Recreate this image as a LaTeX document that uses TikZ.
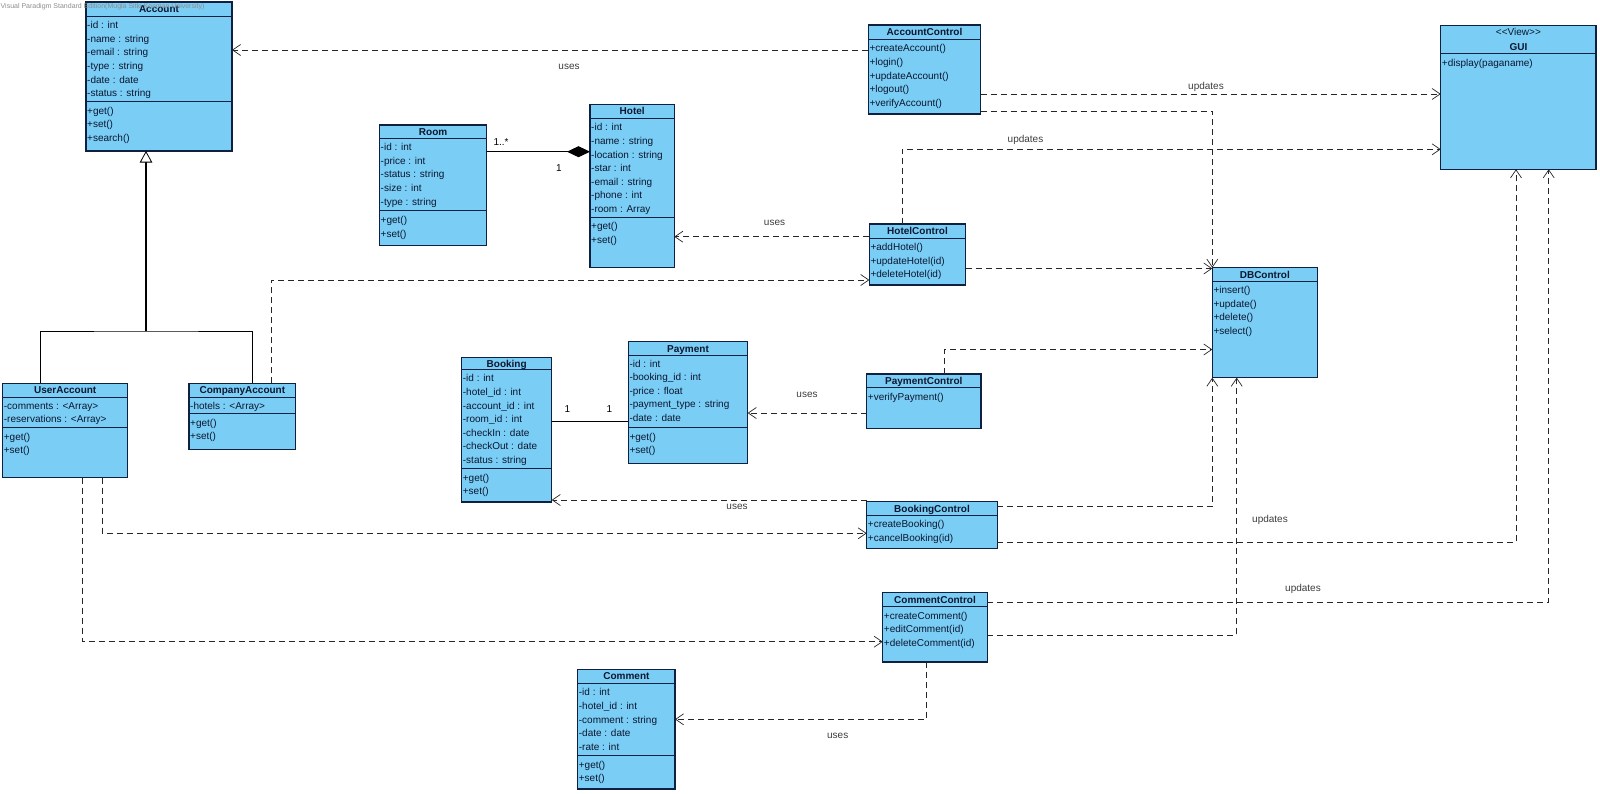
\documentclass[tikz,border=0pt]{standalone}
\usepackage{fontspec}
\setmainfont{Liberation Sans}
\usetikzlibrary{arrows.meta}
\definecolor{vpfill}{RGB}{122,206,245}
\definecolor{vpline}{RGB}{16,32,64}
\definecolor{vptext}{RGB}{12,22,48}
\definecolor{vplbl}{RGB}{60,60,60}

\begin{document}
\begin{tikzpicture}[x=1pt,y=-1pt,
  cls/.style={draw=vpline,fill=vpfill,line width=1.1pt,inner sep=0pt,outer sep=0pt,anchor=north west},
  ttl/.style={font=\fontsize{10}{12}\selectfont\bfseries,text=vptext,inner sep=0pt,anchor=base},
  row/.style={font=\fontsize{10}{12}\selectfont,text=vptext,inner sep=0pt,anchor=base west},
  sep/.style={draw=vpline,line width=0.8pt},
  dep/.style={draw=black!85,line width=0.7pt,dash pattern=on 6pt off 4pt,
    -{Straight Barb[length=8pt,width=11pt]}},
  assoc/.style={draw=black,line width=0.8pt},
  lbl/.style={font=\fontsize{10}{12}\selectfont,text=vplbl,inner sep=0pt}
]
  \useasboundingbox (0,0) rectangle (1600,793);

  % Account
  \node[cls,minimum width=146pt,minimum height=149pt] (account) at (86,2) {};
  \node[ttl] (account-t) at (159,12.9) {Account};
  \draw[sep] (account.west |- 0,16) -- (account.east |- 0,16);
  \foreach \t [count=\i] in {-id : int,-name : string,-email : string,-type  : string,-date : date,-status : string}
    \node[row] (account-a\i) at (87,{28.6+13.6*(\i-1)}) {\t};
  \draw[sep] (account.west |- 0,101.3) -- (account.east |- 0,101.3);
  \foreach \t [count=\i] in {+get(),+set(),+search()}
    \node[row] (account-o\i) at (87,{114.3+13.6*(\i-1)}) {\t};

  % Room
  \node[cls,minimum width=107.2pt,minimum height=120.7pt] (room) at (379.5,125) {};
  \node[ttl] (room-t) at (433.1,135.1) {Room};
  \draw[sep] (room.west |- 0,138) -- (room.east |- 0,138);
  \foreach \t [count=\i] in {-id : int,-price : int,-status : string,-size : int,-type : string}
    \node[row] (room-a\i) at (380.5,{150.6+13.6*(\i-1)}) {\t};
  \draw[sep] (room.west |- 0,210.7) -- (room.east |- 0,210.7);
  \foreach \t [count=\i] in {+get(),+set()}
    \node[row] (room-o\i) at (380.5,{223.9+13.6*(\i-1)}) {\t};

  % Hotel
  \node[cls,minimum width=84.3pt,minimum height=163.4pt] (hotel) at (590,104.3) {};
  \node[ttl] (hotel-t) at (632.2,114.9) {Hotel};
  \draw[sep] (hotel.west |- 0,118.3) -- (hotel.east |- 0,118.3);
  \foreach \t [count=\i] in {-id : int,-name : string,-location : string,-star : int,-email : string,-phone : int,-room : Array}
    \node[row] (hotel-a\i) at (591,{130.9+13.6*(\i-1)}) {\t};
  \draw[sep] (hotel.west |- 0,216.9) -- (hotel.east |- 0,216.9);
  \foreach \t [count=\i] in {+get(),+set()}
    \node[row] (hotel-o\i) at (591,{229.8+13.6*(\i-1)}) {\t};

  % AccountControl
  \node[cls,minimum width=112.4pt,minimum height=89pt] (accctl) at (868.3,25) {};
  \node[ttl] (accctl-t) at (924.5,35.6) {AccountControl};
  \draw[sep] (accctl.west |- 0,39) -- (accctl.east |- 0,39);
  \foreach \t [count=\i] in {+createAccount(),+login(),+updateAccount(),+logout(),+verifyAccount()}
    \node[row] (accctl-o\i) at (869.3,{51.9+13.6*(\i-1)}) {\t};

  % GUI
  \node[cls,minimum width=155.3pt,minimum height=143.6pt] (gui) at (1440.7,25.7) {};
  \node[row,anchor=base] (gui-s) at (1518.4,35.6) {<{}<View>{}>};
  \node[ttl] (gui-t) at (1518.4,50.9) {GUI};
  \draw[sep] (gui.west |- 0,53.3) -- (gui.east |- 0,53.3);
  \node[row] (gui-o1) at (1441.7,66.3) {+display(paganame)};

  % HotelControl
  \node[cls,minimum width=96.4pt,minimum height=61pt] (hotelctl) at (869.3,224) {};
  \node[ttl] (hotelctl-t) at (917.5,234.6) {HotelControl};
  \draw[sep] (hotelctl.west |- 0,238.3) -- (hotelctl.east |- 0,238.3);
  \foreach \t [count=\i] in {+addHotel(),+updateHotel(id),+deleteHotel(id)}
    \node[row] (hotelctl-o\i) at (870.3,{250.6+13.6*(\i-1)}) {\t};

  % DBControl
  \node[cls,minimum width=105pt,minimum height=110pt] (dbctl) at (1212.3,267.7) {};
  \node[ttl] (dbctl-t) at (1264.8,278.6) {DBControl};
  \draw[sep] (dbctl.west |- 0,281) -- (dbctl.east |- 0,281);
  \foreach \t [count=\i] in {+insert(),+update(),+delete(),+select()}
    \node[row] (dbctl-o\i) at (1213.3,{293.6+13.6*(\i-1)}) {\t};

  % PaymentControl
  \node[cls,minimum width=114.3pt,minimum height=54.3pt] (payctl) at (866.7,374) {};
  \node[ttl] (payctl-t) at (923.8,384.6) {PaymentControl};
  \draw[sep] (payctl.west |- 0,387.7) -- (payctl.east |- 0,387.7);
  \node[row] (payctl-o1) at (867.7,400.3) {+verifyPayment()};

  % Payment
  \node[cls,minimum width=119.4pt,minimum height=121.6pt] (payment) at (628.3,341.7) {};
  \node[ttl] (payment-t) at (688,352.1) {Payment};
  \draw[sep] (payment.west |- 0,355.7) -- (payment.east |- 0,355.7);
  \foreach \t [count=\i] in {-id : int,-booking\_id : int,-price : float,-payment\_type : string,-date : date}
    \node[row] (payment-a\i) at (629.3,{367.1+13.6*(\i-1)}) {\t};
  \draw[sep] (payment.west |- 0,427.3) -- (payment.east |- 0,427.3);
  \foreach \t [count=\i] in {+get(),+set()}
    \node[row] (payment-o\i) at (629.3,{440.3+13.6*(\i-1)}) {\t};

  % Booking
  \node[cls,minimum width=90pt,minimum height=144.7pt] (booking) at (461.7,357.3) {};
  \node[ttl] (booking-t) at (506.7,367.1) {Booking};
  \draw[sep] (booking.west |- 0,369.3) -- (booking.east |- 0,369.3);
  \foreach \t [count=\i] in {-id : int,-hotel\_id : int,-account\_id : int,-room\_id : int,-checkIn : date,-checkOut : date,-status : string}
    \node[row] (booking-a\i) at (462.7,{381.9+13.6*(\i-1)}) {\t};
  \draw[sep] (booking.west |- 0,468.3) -- (booking.east |- 0,468.3);
  \foreach \t [count=\i] in {+get(),+set()}
    \node[row] (booking-o\i) at (462.7,{481.3+13.6*(\i-1)}) {\t};

  % BookingControl
  \node[cls,minimum width=130.6pt,minimum height=46.6pt] (bookctl) at (866.7,501.7) {};
  \node[ttl] (bookctl-t) at (932,512.1) {BookingControl};
  \draw[sep] (bookctl.west |- 0,515) -- (bookctl.east |- 0,515);
  \foreach \t [count=\i] in {+createBooking(),+cancelBooking(id)}
    \node[row] (bookctl-o\i) at (867.7,{527.6+13.6*(\i-1)}) {\t};

  % CommentControl
  \node[cls,minimum width=104.6pt,minimum height=69.3pt] (commctl) at (882.7,592.7) {};
  \node[ttl] (commctl-t) at (935,603.1) {CommentControl};
  \draw[sep] (commctl.west |- 0,606.7) -- (commctl.east |- 0,606.7);
  \foreach \t [count=\i] in {+createComment(),+editComment(id),+deleteComment(id)}
    \node[row] (commctl-o\i) at (883.7,{619.1+13.6*(\i-1)}) {\t};

  % Comment
  \node[cls,minimum width=97.3pt,minimum height=119.7pt] (comment) at (577.7,669.3) {};
  \node[ttl] (comment-t) at (626.4,679.6) {Comment};
  \draw[sep] (comment.west |- 0,683.3) -- (comment.east |- 0,683.3);
  \foreach \t [count=\i] in {-id : int,-hotel\_id : int,-comment : string,-date : date,-rate : int}
    \node[row] (comment-a\i) at (578.7,{695.9+13.6*(\i-1)}) {\t};
  \draw[sep] (comment.west |- 0,755.7) -- (comment.east |- 0,755.7);
  \foreach \t [count=\i] in {+get(),+set()}
    \node[row] (comment-o\i) at (578.7,{768.1+13.6*(\i-1)}) {\t};

  % UserAccount
  \node[cls,minimum width=125pt,minimum height=94.4pt] (useracc) at (2.7,383.3) {};
  \node[ttl] (useracc-t) at (65.2,393.6) {UserAccount};
  \draw[sep] (useracc.west |- 0,397.3) -- (useracc.east |- 0,397.3);
  \foreach \t [count=\i] in {-comments : <Array>,-reservations : <Array>}
    \node[row] (useracc-a\i) at (3.7,{409.1+13.6*(\i-1)}) {\t};
  \draw[sep] (useracc.west |- 0,427.3) -- (useracc.east |- 0,427.3);
  \foreach \t [count=\i] in {+get(),+set()}
    \node[row] (useracc-o\i) at (3.7,{440.3+13.6*(\i-1)}) {\t};

  % CompanyAccount
  \node[cls,minimum width=106.7pt,minimum height=66pt] (compacc) at (189,383.3) {};
  \node[ttl] (compacc-t) at (242.4,393.6) {CompanyAccount};
  \draw[sep] (compacc.west |- 0,397.3) -- (compacc.east |- 0,397.3);
  \node[row] (compacc-a1) at (190,409.1) {-hotels : <Array>};
  \draw[sep] (compacc.west |- 0,413.5) -- (compacc.east |- 0,413.5);
  \foreach \t [count=\i] in {+get(),+set()}
    \node[row] (compacc-o\i) at (190,{426.3+13.6*(\i-1)}) {\t};

  % watermark
  \node[font=\fontsize{7}{8}\selectfont,text=black!45,anchor=west,inner sep=0pt] (wmark) at (0.5,6.5)
    {Visual Paradigm Standard Edition(Mugla Sitki Kocman University)};

  % generalization
  \coordinate (genjoin) at (146,331);
  \draw[line width=1.3pt,-{Triangle[open,length=11.5pt,width=12.5pt,fill=white,line width=0.8pt]}]
    (genjoin) -- (genjoin |- account.south);
  \draw[assoc] (40.7,0 |- useracc.north) |- (genjoin) -| (252.3,0 |- compacc.north);

  % associations
  \draw[assoc,-{Diamond[length=23pt,width=11pt,fill=black]}] (room.east |- 0,151.7) -- (hotel.west |- 0,151.7);
  \node[lbl,text=black] (m-room) at (501,141.7) {1..*};
  \node[lbl,text=black] (m-hotel) at (559,167.7) {1};
  \draw[assoc] (booking.east |- 0,421) -- (payment.west |- 0,421);
  \node[lbl,text=black] (m-book) at (567.3,409) {1};
  \node[lbl,text=black] (m-pay) at (609.3,409) {1};

  % dependencies
  \draw[dep] (accctl.west |- 0,50) -- (account.east |- 0,50);
  \node[lbl] (u-acc) at (569,67) {uses};
  \draw[dep] (accctl.east |- 0,94) -- (gui.west |- 0,94);
  \node[lbl] (up-acc) at (1206,87) {updates};
  \draw[dep] (accctl.east |- 0,111) -| (dbctl.north west);
  \draw[dep] (902,0 |- hotelctl.north) |- (gui.west |- 0,149.3);
  \node[lbl] (up-hot) at (1025.5,140) {updates};
  \draw[dep] (hotelctl.west |- 0,236.7) -- (hotel.east |- 0,236.7);
  \node[lbl] (u-hot) at (774.5,222.5) {uses};
  \draw[dep] (hotelctl.east |- 0,268.5) -- (dbctl.west |- 0,268.5);
  \draw[dep] (271.7,0 |- compacc.north) |- (hotelctl.west |- 0,280);
  \draw[dep] (944.3,0 |- payctl.north) |- (dbctl.west |- 0,349.5);
  \draw[dep] (payctl.west |- 0,413) -- (payment.east |- 0,413);
  \node[lbl] (u-pay) at (807,395) {uses};
  \draw[dep] (bookctl.west |- 0,500) -- (booking.east |- 0,500);
  \node[lbl] (u-book) at (737,507) {uses};
  \draw[dep] (bookctl.east |- 0,506.7) -| (dbctl.south west);
  \draw[dep] (bookctl.east |- 0,542.7) -| (1516,0 |- gui.south);
  \node[lbl] (up-book) at (1270,520) {updates};
  \draw[dep] (commctl.east |- 0,635) -| (1236.7,0 |- dbctl.south);
  \draw[dep] (commctl.east |- 0,602.3) -| (1548.7,0 |- gui.south);
  \node[lbl] (up-comm) at (1303,589) {updates};
  \draw[dep] (926.6,0 |- commctl.south) |- (comment.east |- 0,719.3);
  \node[lbl] (u-comm) at (837.7,736) {uses};
  \draw[dep] (102.3,0 |- useracc.south) |- (bookctl.west |- 0,533.3);
  \draw[dep] (82.7,0 |- useracc.south) |- (commctl.west |- 0,641.7);
\end{tikzpicture}
\end{document}
